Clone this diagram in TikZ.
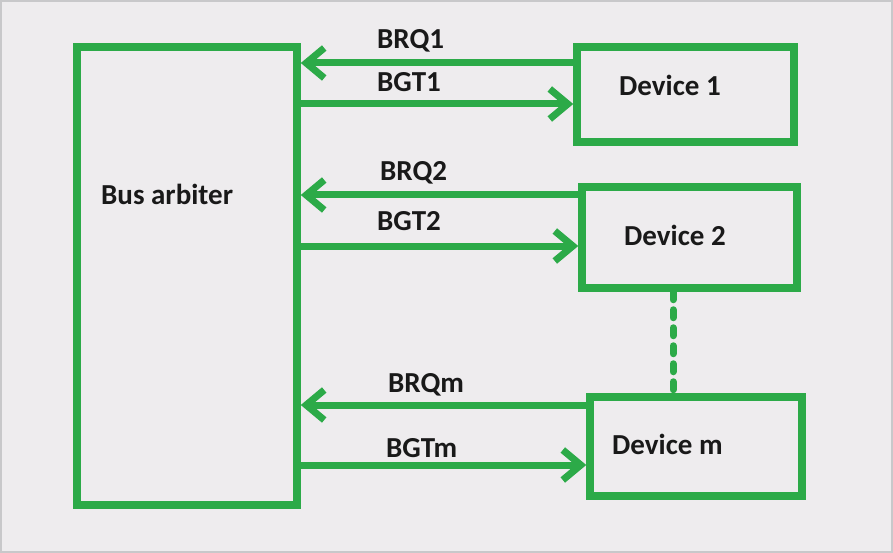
\documentclass[tikz,border=0pt]{standalone}
\usepackage{fontspec}
\setmainfont{Carlito}
\usepackage{xcolor}
\usetikzlibrary{arrows.meta, positioning}
\definecolor{busgreen}{RGB}{44,170,72}
\definecolor{paper}{RGB}{238,236,238}
\definecolor{frame}{RGB}{200,200,202}

\begin{document}
\begin{tikzpicture}[
    x=1pt, y=-1pt,
    box/.style={draw=busgreen, line width=7.5pt, inner sep=0pt, minimum width=#1},
    lbl/.style={anchor=base west, inner sep=0pt, text=black!90, font=\fontsize{29pt}{33pt}\selectfont\bfseries},
    line/.style={draw=busgreen, line width=7pt, -{Straight Barb[length=18pt, width=30pt]}},
    dots/.style={draw=busgreen, line width=7pt, line cap=round, dash pattern=on 8pt off 10pt}
]

% Background and frame
\fill[paper] (0,0) rectangle (893,553);
\draw[frame, line width=2pt] (1,1) rectangle (892,552);

% Arbiter and devices
\node[box=220pt, minimum height=458pt] (arb) at (187,276) {};
\node[box=217pt, minimum height=95pt] (dev1) at (685.5,94.5) {};
\node[box=215pt, minimum height=101pt] (dev2) at (689.5,237.5) {};
\node[box=212pt, minimum height=99pt] (devm) at (696,446.5) {};

% Box texts
\node[lbl] (arbtxt) at (101,205) {Bus arbiter};
\node[lbl] (dev1txt) at (619,96) {Device 1};
\node[lbl] (dev2txt) at (624,245) {Device 2};
\node[lbl] (devmtxt) at (612,454) {Device m};

% Request and grant lines
\draw[line] (dev1.west |- 0,63) -- (arb.east |- 0,63);
\draw[line] (arb.east |- 0,104) -- (dev1.west |- 0,104);
\draw[line] (dev2.west |- 0,195) -- (arb.east |- 0,195);
\draw[line] (arb.east |- 0,246) -- (dev2.west |- 0,246);
\draw[line] (devm.west |- 0,405) -- (arb.east |- 0,405);
\draw[line] (arb.east |- 0,465) -- (devm.west |- 0,465);

% Signal labels
\node[lbl] (brq1) at (377,49) {BRQ1};
\node[lbl] (bgt1) at (377,92) {BGT1};
\node[lbl] (brq2) at (380,181) {BRQ2};
\node[lbl] (bgt2) at (377,231) {BGT2};
\node[lbl] (brqm) at (388,392) {BRQm};
\node[lbl] (bgtm) at (386,457) {BGTm};

% More devices in between
\draw[dots] (dev2.south -| 673,0) -- (devm.north -| 673,0);

\end{tikzpicture}
\end{document}
